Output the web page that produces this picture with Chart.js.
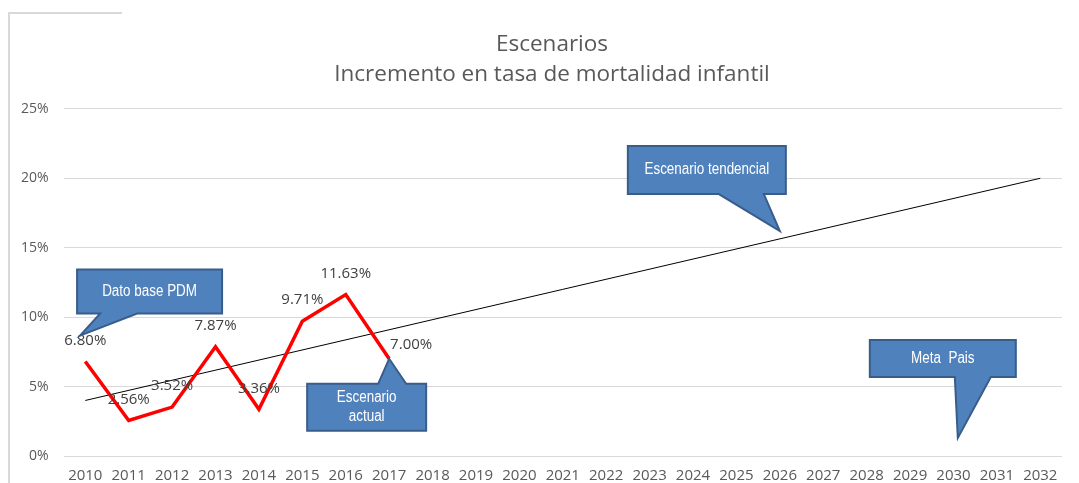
<!DOCTYPE html>
<html>
<head>
<meta charset="utf-8">
<script src="https://cdn.jsdelivr.net/npm/chart.js@4.4.1/dist/chart.umd.min.js"></script>
<style>
  body { margin: 0; background: #fff; overflow: hidden; }
  #wrap { position: relative; width: 1079px; height: 483px; overflow: hidden; }
  .edge { position: absolute; background: #d9d9d9; }
</style>
</head>
<body>
<div id="wrap">
  <div class="edge" style="left:8px;top:12px;width:2px;height:471px"></div>
  <div class="edge" style="left:8px;top:12px;width:114px;height:2px"></div>
  <canvas id="chart" width="1079" height="488"></canvas>
</div>
<script>
// Datos
const years = ['2010','2011','2012','2013','2014','2015','2016','2017','2018','2019','2020',
  '2021','2022','2023','2024','2025','2026','2027','2028','2029','2030','2031','2032'];
const actual = [6.80, 2.56, 3.52, 7.87, 3.36, 9.71, 11.63, 7.00];
// tendencia: solo los extremos
const trend = [4.0, null, null, null, null, null, null, null, null, null, null,
  null, null, null, null, null, null, null, null, null, null, null, 20.0];
const yTicks = [0, 5, 10, 15, 20, 25];

const FONT = '"Open Sans", "Noto Sans", sans-serif';
const GRAY = '#595959';

// Globos de texto (punta anclada a la escala, caja en px relativa a la punta)
const callouts = [
  { text: ['Dato base PDM'], tipX: -0.12, tipY: 8.67, box: [-3, -66, 145, 44], base: [20, 57], edge: 'bottom' },
  { text: ['Escenario', 'actual'], tipX: 7, tipY: 7.0, box: [-82, 25, 119, 47], base: [-11, 17], edge: 'top' },
  { text: ['Escenario tendencial'], tipX: 16, tipY: 16.2, box: [-152, -85, 158, 48], base: [-61, -16], edge: 'bottom' },
  { text: ['Meta  Pais'], tipX: 20.1, tipY: 1.3, box: [-88, -98, 146, 37], base: [-3, 33], edge: 'bottom' }
];

// el titulo del original no esta centrado en el lienzo: se corre a la derecha
const titleShift = {
    id: 'titleShift',
    afterLayout(chart) {
        const t = chart.titleBlock;
        if (t) { t.left += 18; t.right += 18; }
    }
};

const valueLabels = {
    id: 'valueLabels',
    afterDatasetsDraw(chart) {
        const ctx = chart.ctx;
        const meta = chart.getDatasetMeta(0);
        ctx.save();
        ctx.font = '15px ' + FONT;
        ctx.fillStyle = '#404040';
        ctx.textAlign = 'center';
        ctx.textBaseline = 'middle';
        meta.data.forEach((pt, i) => {
            const last = i === meta.data.length - 1;
            const dx = last ? 22 : 0;
            const dy = last ? -14 : -21;
            ctx.fillText(actual[i].toFixed(2) + '%', pt.x + dx, pt.y + dy);
        });
        ctx.restore();
    }
};

const calloutPlugin = {
    id: 'callouts',
    afterDraw(chart) {
        const ctx = chart.ctx;
        const xs = chart.scales.x, ys = chart.scales.y;
        ctx.save();
        callouts.forEach(c => {
            const tx = xs.getPixelForValue(c.tipX);
            const ty = ys.getPixelForValue(c.tipY);
            const x = tx + c.box[0], y = ty + c.box[1], w = c.box[2], h = c.box[3];
            const b0 = tx + c.base[0], b1 = tx + c.base[1];
            ctx.beginPath();
            if (c.edge === 'bottom') {
                ctx.moveTo(x, y);
                ctx.lineTo(x + w, y);
                ctx.lineTo(x + w, y + h);
                ctx.lineTo(b1, y + h);
                ctx.lineTo(tx, ty);
                ctx.lineTo(b0, y + h);
                ctx.lineTo(x, y + h);
            } else {
                ctx.moveTo(x, y);
                ctx.lineTo(b0, y);
                ctx.lineTo(tx, ty);
                ctx.lineTo(b1, y);
                ctx.lineTo(x + w, y);
                ctx.lineTo(x + w, y + h);
                ctx.lineTo(x, y + h);
            }
            ctx.closePath();
            ctx.fillStyle = '#4f81bd';
            ctx.fill();
            ctx.lineWidth = 2;
            ctx.strokeStyle = '#385d8a';
            ctx.stroke();

            // texto condensado (tipo Arial Narrow)
            ctx.fillStyle = '#ffffff';
            ctx.font = '16px "Liberation Sans", Arial, sans-serif';
            ctx.textAlign = 'center';
            ctx.textBaseline = 'middle';
            const lh = 19;
            const cy = y + h / 2 - (c.text.length - 1) * lh / 2;
            const sx = 0.84;
            c.text.forEach((t, k) => {
                ctx.save();
                ctx.translate(x + w / 2, cy + k * lh);
                ctx.scale(sx, 1);
                ctx.fillText(t, 0, 0);
                ctx.restore();
            });
        });
        ctx.restore();
    }
};

new Chart(document.getElementById('chart'), {
    type: 'line',
    data: {
        labels: years,
        datasets: [
            {
                label: 'Escenario actual',
                data: actual,
                borderColor: '#ff0000',
                borderWidth: 3.5,
                pointRadius: 0,
                tension: 0,
                fill: false
            },
            {
                label: 'Escenario tendencial',
                data: trend,
                borderColor: '#000000',
                borderWidth: 1,
                pointRadius: 0,
                spanGaps: true,
                tension: 0,
                fill: false
            }
        ]
    },
    options: {
        responsive: false,
        animation: false,
        layout: { padding: { left: 6, right: 17, top: 0, bottom: 0 } },
        plugins: {
            legend: { display: false },
            tooltip: { enabled: false },
            title: {
                display: true,
                text: ['Escenarios', 'Incremento en tasa de mortalidad infantil'],
                color: GRAY,
                font: { family: FONT, size: 22.5, weight: 'normal', lineHeight: 1.33 },
                padding: { top: 30, bottom: 19 }
            }
        },
        scales: {
            x: {
                offset: true,
                grid: { display: false },
                border: { display: false },
                ticks: {
                    color: GRAY,
                    font: { family: FONT, size: 15 },
                    maxRotation: 0,
                    autoSkip: false,
                    padding: 3
                }
            },
            y: {
                min: 0,
                max: 25,
                afterBuildTicks: axis => { axis.ticks = yTicks.map(v => ({ value: v })); },
                grid: { color: '#d9d9d9', lineWidth: 1, drawTicks: false },
                border: { display: false },
                ticks: {
                    color: GRAY,
                    font: { family: FONT, size: 14 },
                    padding: 15,
                    callback: v => v + '%'
                }
            }
        }
    },
    plugins: [titleShift, valueLabels, calloutPlugin]
});
</script>
</body>
</html>
